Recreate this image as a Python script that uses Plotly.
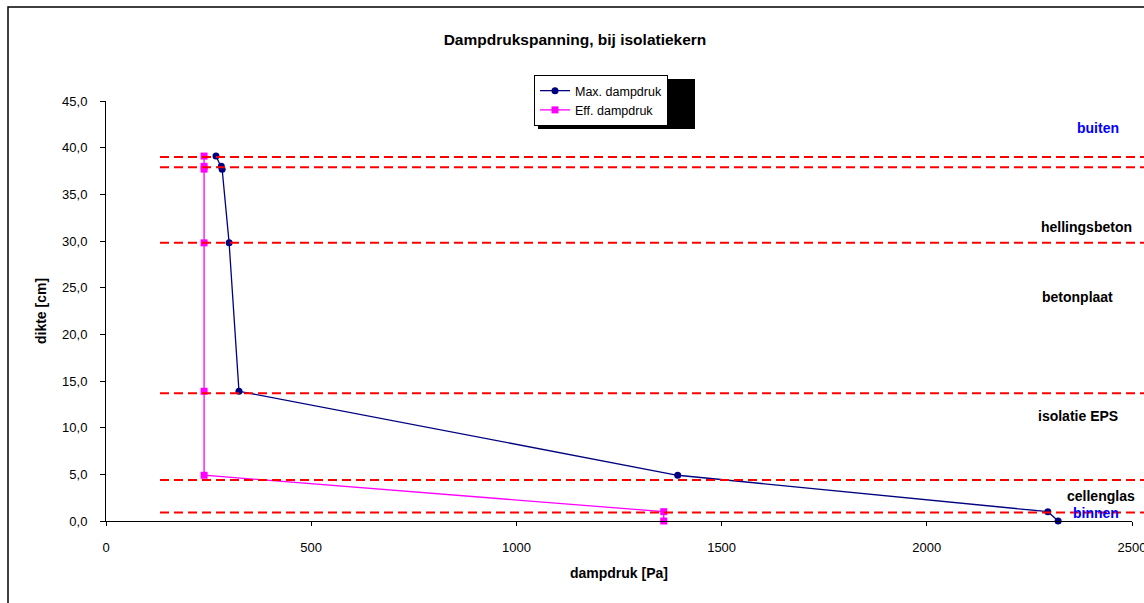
import plotly.graph_objects as go

# Data
dikte = [39.1, 38.0, 37.7, 29.8, 13.9, 4.9, 1.0, 0.0]
max_dampdruk = [268, 281, 283, 300, 324, 1393, 2295, 2320]
eff_dampdruk = [239, 239, 239, 239, 239, 239, 1359, 1359]

layer_lines = [39.0, 37.9, 29.8, 13.7, 4.4, 0.9]
layer_names = ["buiten", "hellingsbeton", "betonplaat", "isolatie EPS", "cellenglas", "binnen"]
layer_label_y = [42.1, 31.5, 24.0, 11.3, 2.7, 0.9]
layer_label_x = [2418, 2388, 2368, 2368, 2424, 2412]
layer_colors = ["#0000FF", "black", "black", "black", "black", "#0000FF"]

x_ticks = [0, 500, 1000, 1500, 2000, 2500]

FONT = "Liberation Sans, Arial, sans-serif"

fig = go.Figure()
fig.add_trace(go.Scatter(
    x=max_dampdruk, y=dikte, mode="lines+markers", name="Max. dampdruk",
    line=dict(color="#000080", width=1.3),
    marker=dict(symbol="circle", size=7, color="#000080"),
    cliponaxis=False,
))
fig.add_trace(go.Scatter(
    x=eff_dampdruk, y=dikte, mode="lines+markers", name="Eff. dampdruk",
    line=dict(color="#FF00FF", width=1.3),
    marker=dict(symbol="square", size=7, color="#FF00FF"),
    cliponaxis=False,
))

W, H = 1144, 603
ml, mr, mt, mb = 106, 12, 101, 82
pw, ph = W - ml - mr, H - mt - mb

def px_x(p):
    return (p - ml) / pw

def px_y(p):
    return (H - mb - p) / ph

shapes = []
# outer chart border
shapes.append(dict(type="rect", xref="paper", yref="paper",
                   x0=px_x(8), x1=px_x(1160), y0=px_y(620), y1=px_y(7),
                   line=dict(color="black", width=1.5), fillcolor="rgba(0,0,0,0)", layer="below"))
# legend shadow
shapes.append(dict(type="rect", xref="paper", yref="paper",
                   x0=px_x(538), x1=px_x(695), y0=px_y(129), y1=px_y(79),
                   line=dict(width=0), fillcolor="black", layer="above"))
# dashed layer lines
for yv in layer_lines:
    shapes.append(dict(type="line", xref="paper", yref="y",
                       x0=px_x(160), x1=px_x(1160), y0=yv, y1=yv,
                       line=dict(color="#FF0000", width=2, dash="9px,5px")))

annotations = []
for name, xv, yv, c in zip(layer_names, layer_label_x, layer_label_y, layer_colors):
    annotations.append(dict(x=xv, y=yv, xref="x", yref="y", text="<b>%s</b>" % name,
                            showarrow=False, font=dict(family=FONT, size=14, color=c),
                            xanchor="center", yanchor="middle"))

fig.update_layout(
    width=W, height=H,
    margin=dict(l=ml, r=mr, t=mt, b=mb, autoexpand=False),
    paper_bgcolor="white", plot_bgcolor="white",
    separators=",.",
    font=dict(family=FONT, size=12.5, color="black"),
    title=dict(text="<b>Dampdrukspanning, bij isolatiekern</b>", x=575 / W,
               xanchor="center", y=1 - 40 / H, yanchor="middle",
               font=dict(family=FONT, size=15.5, color="black")),
    showlegend=True,
    legend=dict(x=px_x(534), y=px_y(75), xanchor="left", yanchor="top",
                bgcolor="white", bordercolor="black", borderwidth=1,
                font=dict(family=FONT, size=12.5, color="black"),
                tracegroupgap=0, itemwidth=30, entrywidth=120, entrywidthmode="pixels"),
    shapes=shapes,
    annotations=annotations,
)

fig.update_xaxes(range=[0, 2500], tickvals=x_ticks, automargin=False,
                 tickformat="d", showgrid=False, zeroline=False,
                 showline=True, linecolor="black", linewidth=1,
                 ticks="outside", ticklen=4, tickcolor="black",
                 ticklabelstandoff=10, ticklabeloverflow="allow",
                 title=dict(text="<b>dampdruk [Pa]</b>", font=dict(family=FONT, size=14), standoff=14),
                 tickfont=dict(family=FONT, size=13))
fig.update_yaxes(range=[0, 45], dtick=5, tickformat=".1f", showgrid=False, zeroline=False,
                 showline=True, linecolor="black", linewidth=1, automargin=False,
                 ticks="outside", ticklen=5, tickcolor="black",
                 ticklabelstandoff=10,
                 title=dict(text="<b>dikte [cm]</b>", font=dict(family=FONT, size=14), standoff=12),
                 tickfont=dict(family=FONT, size=13))

fig.write_html("out.html")
